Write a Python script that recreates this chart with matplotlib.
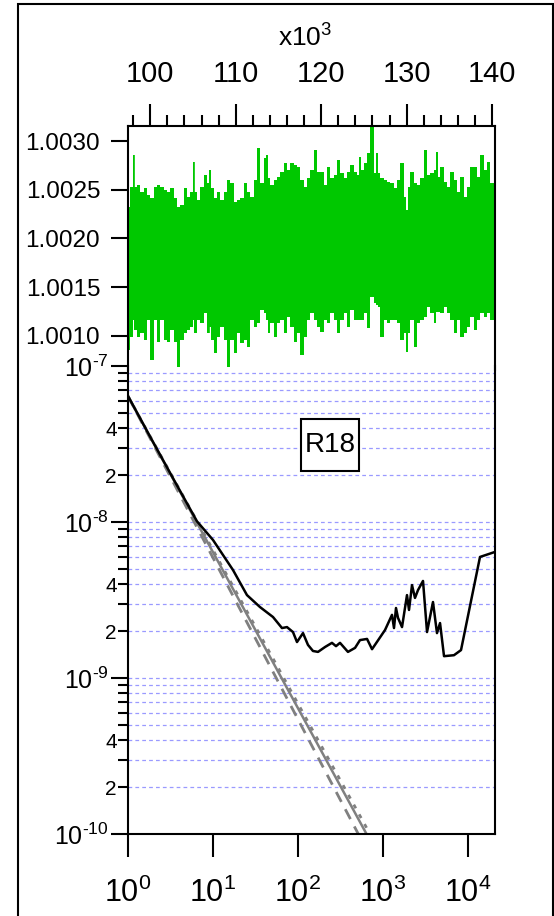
import matplotlib
matplotlib.use("Agg")
import matplotlib.pyplot as plt
from matplotlib.patches import Rectangle
import numpy as np

plt.rcParams["font.family"] = ["Liberation Sans", "DejaVu Sans"]
plt.rcParams["mathtext.fontset"] = "custom"
plt.rcParams["mathtext.rm"] = "Liberation Sans"
plt.rcParams["mathtext.it"] = "Liberation Sans"

# frequency ratio record: sample time (x1e3 s), upper and lower spike extremes
t_k = [97.47, 97.86, 98.05, 98.25, 98.64, 99.03, 99.42, 99.81, 100.20, 100.59,
       100.98, 101.37, 101.76, 102.15, 102.54, 102.93, 103.32, 103.71, 104.10, 104.49,
       104.88, 105.08, 105.27, 105.66, 106.05, 106.44, 106.83, 107.03, 107.22, 107.61,
       108.00, 108.39, 108.78, 109.17, 109.56, 109.95, 110.34, 110.73, 111.12, 111.51,
       111.89, 112.28, 112.67, 113.06, 113.45, 113.65, 113.84, 114.23, 114.62, 115.01,
       115.40, 115.79, 116.18, 116.57, 116.96, 117.35, 117.74, 118.13, 118.52, 118.91,
       119.30, 119.69, 120.08, 120.47, 120.86, 121.25, 121.64, 122.03, 122.42, 122.81,
       123.20, 123.59, 123.98, 124.37, 124.57, 124.76, 125.15, 125.54,
       125.93, 126.32, 126.52, 126.71, 127.10, 127.49, 127.88, 128.27, 128.66, 129.05,
       129.44, 129.83, 130.03, 130.22, 130.61, 131.00, 131.39, 131.78, 132.17, 132.56,
       132.95, 133.34, 133.54, 133.73, 134.12, 134.51, 134.90, 135.29, 135.68, 136.07,
       136.46, 136.85, 137.24, 137.63, 138.02, 138.41, 138.80, 139.19, 139.58, 139.97,
       140.36]
ratio_hi = [1.002326, 1.002532, 1.002856, 1.002532, 1.002549, 1.002480, 1.002514, 1.002446, 1.002412, 1.002532,
            1.002549, 1.002532, 1.002497, 1.002480, 1.002514, 1.002412, 1.002326, 1.002344, 1.002514, 1.002429,
            1.002480, 1.002788, 1.002480, 1.002395, 1.002532, 1.002651, 1.002566, 1.002703, 1.002514, 1.002412,
            1.002480, 1.002395, 1.002480, 1.002600, 1.002566, 1.002378, 1.002395, 1.002412, 1.002566, 1.002480,
            1.002429, 1.002600, 1.002925, 1.002566, 1.002822, 1.002856, 1.002617, 1.002549, 1.002600, 1.002634,
            1.002685, 1.002771, 1.002703, 1.002771, 1.002754, 1.002737, 1.002600, 1.002532, 1.002617, 1.002703,
            1.002908, 1.002685, 1.002685, 1.002549, 1.002737, 1.002617, 1.002651, 1.002805, 1.002668, 1.002617,
            1.002685, 1.002754, 1.002685, 1.002651, 1.002839, 1.002703, 1.002771, 1.002873,
            1.003164, 1.002668, 1.002873, 1.002668, 1.002617, 1.002600, 1.002583, 1.002566, 1.002514, 1.002600,
            1.002771, 1.002429, 1.002292, 1.002532, 1.002685, 1.002566, 1.002549, 1.002617, 1.002908, 1.002651,
            1.002668, 1.002703, 1.002891, 1.002634, 1.002737, 1.002583, 1.002532, 1.002685, 1.002600, 1.002480,
            1.002634, 1.002429, 1.002532, 1.002737, 1.002737, 1.002634, 1.002856, 1.002703, 1.002788, 1.002566,
            1.002480]
ratio_lo = [1.000856, 1.000993, 1.001164, 1.001061, 1.000993, 1.001027, 1.000959, 1.001164, 1.000754, 1.001164,
            1.000942, 1.001164, 1.000959, 1.000942, 1.001061, 1.000942, 1.000685, 1.000959, 1.001027, 1.001061,
            1.001096, 1.001164, 1.001027, 1.001164, 1.001130, 1.001232, 1.001027, 1.001096, 1.000959, 1.000822,
            1.000993, 1.001096, 1.000959, 1.000685, 1.000959, 1.000822, 1.001027, 1.000925, 1.000959, 1.000890,
            1.001164, 1.001096, 1.001130, 1.001267, 1.001232, 1.001164, 1.001027, 1.001130, 1.000993, 1.001130,
            1.001164, 1.001027, 1.001198, 1.001096, 1.000942, 1.001027, 1.000805, 1.000993, 1.001164, 1.001232,
            1.001164, 1.001096, 1.001044, 1.001164, 1.001130, 1.001232, 1.001164, 1.001027, 1.001164, 1.001232,
            1.001096, 1.001267, 1.001164, 1.001164, 1.001164, 1.001164, 1.001232, 1.001078,
            1.001403, 1.001335, 1.001318, 1.001301, 1.000993, 1.001164, 1.001130, 1.001164, 1.001164, 1.001130,
            1.000959, 1.001027, 1.000839, 1.001027, 1.001164, 1.000890, 1.001130, 1.001164, 1.001198, 1.001301,
            1.001232, 1.001130, 1.001250, 1.001250, 1.001232, 1.001301, 1.001232, 1.001164, 1.001027, 1.001164,
            1.000993, 1.001027, 1.001096, 1.001198, 1.001061, 1.001164, 1.001232, 1.001198, 1.001232, 1.001164,
            1.001198]

# Allan deviation
tau = [1.0, 1.81, 3.57, 6.48, 10.0, 17.2, 25.1, 35.7, 50.8, 64.8, 74.2, 87.3, 97.3,
       114.5, 131, 150, 172, 208, 251, 280, 312, 387, 469, 536, 649, 743, 1056,
       1276, 1347, 1422, 1501, 1674, 1915, 2023, 2194, 2378, 2581, 2956, 3296,
       3873, 4316, 4688, 5223, 6839, 8277, 13840, 20790]
adev = [6.42e-8, 3.54e-8, 1.81e-8, 1.01e-8, 7.67e-9, 4.92e-9, 3.40e-9, 2.85e-9,
        2.46e-9, 2.09e-9, 2.12e-9, 1.97e-9, 1.70e-9, 1.94e-9, 1.63e-9, 1.49e-9,
        1.47e-9, 1.58e-9, 1.68e-9, 1.60e-9, 1.68e-9, 1.47e-9, 1.56e-9, 1.75e-9,
        1.78e-9, 1.53e-9, 2.03e-9, 2.54e-9, 2.09e-9, 2.81e-9, 2.43e-9, 2.12e-9,
        3.40e-9, 2.73e-9, 3.94e-9, 3.26e-9, 3.66e-9, 4.19e-9, 1.97e-9, 3.07e-9,
        1.94e-9, 2.25e-9, 1.38e-9, 1.40e-9, 1.51e-9, 5.97e-9, 6.43e-9]

# 1/tau reference lines
fit_tau = [1.0, 1000.0]
fit_mid = [6.4e-8, 6.4e-11]
fit_low = [6.4e-8, 5.0e-11]
fit_high = [6.4e-8, 7.07e-11]

top_ticks = [100000, 110000, 120000, 130000, 140000]
top_labels = ["100", "110", "120", "130", "140"]
ratio_ticks = [1.0010, 1.0015, 1.0020, 1.0025, 1.0030]
decades_x = [1, 10, 100, 1000, 10000]
decades_y = [1e-10, 1e-9, 1e-8, 1e-7]

W, H = 554, 916
fig = plt.figure(figsize=(W / 100, H / 100), dpi=100)


def box(l, t, r, b):
    return [l / W, 1 - b / H, (r - l) / W, (b - t) / H]


def sup(base, exp):
    # plain hyphen in the exponent, as in the instrument software labels
    exp = exp.replace("-", "\u2010")
    return base + r"$^{\mathregular{" + exp + "}}$"


fig.add_artist(Rectangle((18 / W, -0.01), (553 - 18) / W, 1.01 - 4 / H,
                         transform=fig.transFigure, fill=False, lw=1.5, color="black"))

green = "#00c800"
blue_grid = "#9a9aff"
lw_axis = 1.5

# lower panel: Allan deviation
ax2 = fig.add_axes(box(128, 366, 495, 834))
ax2.set_xscale("log")
ax2.set_yscale("log")
ax2.set_xlim(1, 10 ** (367 / 85))
ax2.set_ylim(1e-10, 1e-7)
grid_levels = [m * d for d in [1e-10, 1e-9, 1e-8] for m in range(1, 10)]
for g in grid_levels:
    ax2.axhline(g, color=blue_grid, lw=0.9, dashes=(3, 2.5), zorder=1)
ax2.plot(fit_tau, fit_low, color="#808080", lw=2, dashes=(4, 3), zorder=2)
ax2.plot(fit_tau, fit_high, color="#808080", lw=2, dashes=(1.5, 2.5), zorder=2)
ax2.plot(fit_tau, fit_mid, color="#808080", lw=1.8, zorder=2)
ax2.plot(tau, adev, color="black", lw=1.8, zorder=3)
ax2.spines["top"].set_visible(False)
for s in ["left", "right", "bottom"]:
    ax2.spines[s].set_linewidth(lw_axis)
ax2.set_xticks(decades_x, [sup("10", str(int(np.log10(v)))) for v in decades_x], fontsize=22)
ax2.xaxis.set_minor_locator(plt.NullLocator())
ax2.tick_params(axis="x", which="major", direction="out", length=16.5, width=lw_axis, pad=15)
ax2.set_yticks(decades_y, [sup("10", str(int(np.log10(v)))) for v in decades_y], fontsize=18)
minor_y = [m * d for d in [1e-10, 1e-9, 1e-8] for m in range(2, 10)]
minor_lab = ["2" if m == 2 else "4" if m == 4 else "" for d in [1e-10, 1e-9, 1e-8] for m in range(2, 10)]
ax2.set_yticks(minor_y, minor_lab, minor=True, fontsize=15)
ax2.tick_params(axis="y", which="major", direction="out", length=12, width=lw_axis, pad=2)
ax2.tick_params(axis="y", which="minor", direction="out", length=7, width=lw_axis, pad=1)

# sample label
fig.add_artist(Rectangle((301 / W, 1 - 471 / H), 58 / W, 52 / H, transform=fig.transFigure,
                         fc="white", ec="black", lw=1.5, zorder=5))
fig.text(330 / W, 1 - 445 / H, "R18", ha="center", va="center", fontsize=20, zorder=6)

# upper panel: frequency ratio record
ax1 = fig.add_axes(box(128, 126, 495, 370))
ax1.patch.set_alpha(0)
ax1.set_xlim(97400, 140330)
ax1.set_ylim(1.0030 - 229 / 97500, 1.0030 + 15 / 97500)
t_sec = np.array(t_k) * 1000
ax1.fill_between(t_sec, ratio_lo, ratio_hi, step="mid", color=green, lw=0, clip_on=False)
ax1.vlines(t_sec, ratio_lo, ratio_hi, color=green, lw=1.2, clip_on=False)
ax1.spines["bottom"].set_visible(False)
for s in ["left", "right", "top"]:
    ax1.spines[s].set_linewidth(lw_axis)
ax1.xaxis.tick_top()
ax1.set_xticks(top_ticks, top_labels, fontsize=21)
ax1.set_xticks(np.arange(98000, 140001, 2000), minor=True)
ax1.tick_params(axis="x", which="major", direction="out", length=16, width=lw_axis, pad=11)
ax1.tick_params(axis="x", which="minor", direction="out", length=8, width=lw_axis)
ax1.set_yticks(ratio_ticks, [f"{v:.4f}" for v in ratio_ticks], fontsize=17.5)
ax1.tick_params(axis="y", direction="out", length=12, width=lw_axis, pad=8)
fig.text(305 / W, 1 - 38 / H, sup("x10", "3"), ha="center", va="center", fontsize=19)

fig.savefig("out.png", dpi=100)
